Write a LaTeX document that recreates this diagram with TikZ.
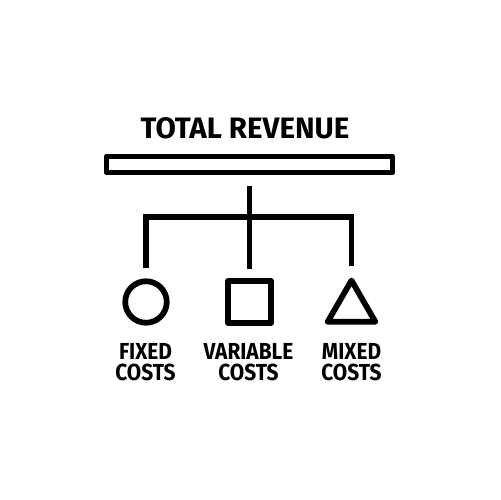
\documentclass[tikz,border=0pt]{standalone}
\usepackage{fontspec}
\newfontfamily\costfont[FakeStretch=0.9]{Fira Sans}
\newfontfamily\titlefont{Fira Sans}
\usetikzlibrary{shapes.geometric}

\begin{document}
\begin{tikzpicture}[x=0.02cm, y=-0.02cm, line width=0.115cm, line join=round,
    sym/.style={draw, inner sep=0pt},
    costlabel/.style={font=\costfont\bfseries\fontsize{13.2}{11.9}\selectfont,
                      align=center, inner sep=0pt}]
  \useasboundingbox[fill=white] (0,0) rectangle (500,500);
  \path node (title) at (245,128.5) [font=\titlefont\bfseries\fontsize{16.8}{18}\selectfont, inner sep=0pt] {TOTAL REVENUE}
        node (bar)   at (249.5,164.5) [sym, rectangle, minimum width=5.72cm, minimum height=0.32cm] {}
        node (circ)  at (146,302) [sym, circle, minimum size=0.83cm] {}
        node (sq)    at (249.5,302) [sym, rectangle, minimum size=0.85cm] {}
        node (tri)   at (351.5,308) [sym, regular polygon, regular polygon sides=3, minimum size=1.1cm] {}
        node (fixed) at (145.5,362) [costlabel] {FIXED\\COSTS}
        node (var)   at (248.5,362) [costlabel] {VARIABLE\\COSTS}
        node (mixed) at (351.5,362) [costlabel] {MIXED\\COSTS};
  \coordinate (J) at (249.5,217);
  \draw[shorten <=0.22cm, shorten >=0.18cm] (bar.south) -- (sq.north);
  \draw[line join=miter, shorten <=0.21cm, shorten >=0.18cm] (circ.north) |- (J) -| (tri.north);
\end{tikzpicture}
\end{document}
